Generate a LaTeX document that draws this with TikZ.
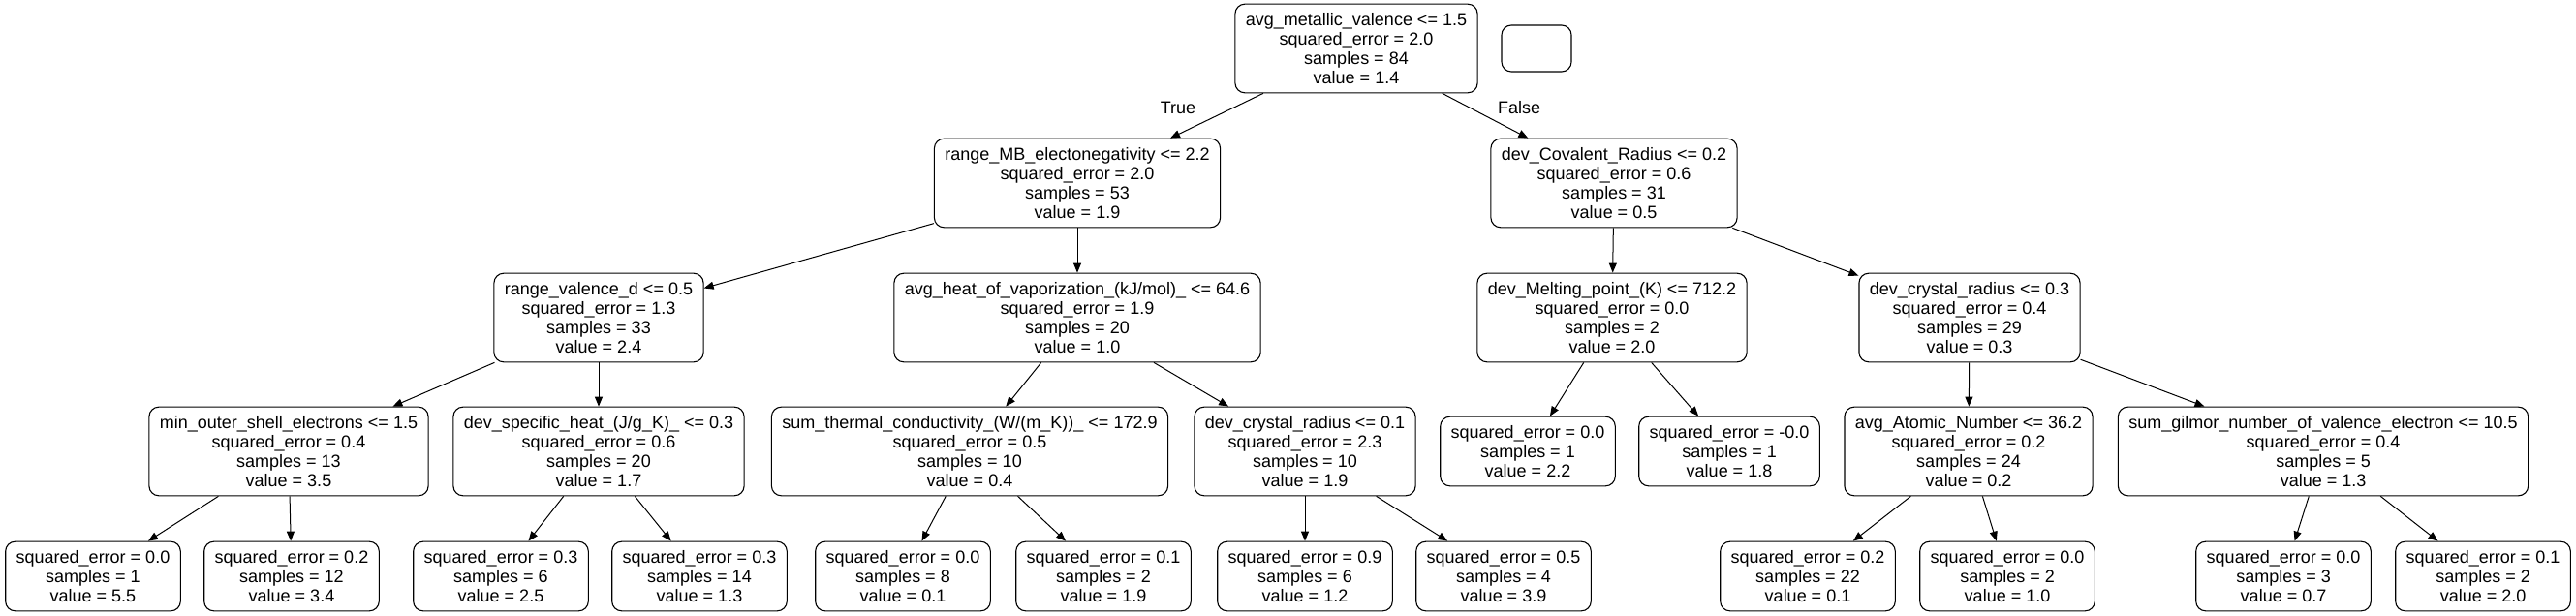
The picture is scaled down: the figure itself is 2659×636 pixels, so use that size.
\documentclass[tikz,border=0pt]{standalone}
\usepackage{fontspec}
\setmainfont{Liberation Sans}
\usepackage{tikz}
\usetikzlibrary{arrows.meta}

\begin{document}
\begin{tikzpicture}[x=0.5pt,y=-0.5pt]
    \tikzstyle{every node} = [font=\fontsize{9}{10}\selectfont]
    \tikzstyle{block} = [draw, rectangle, rounded corners=5pt, align=center, inner xsep=5.5pt, inner ysep=4.6pt, line width=0.55pt]
    \tikzstyle{link} = [-{Triangle[length=5pt,width=4pt]}, line width=0.5pt]
    \useasboundingbox (0,0) rectangle (2659,636);

    % place nodes
    \node[block](root) at (1400,50){avg\_metallic\_valence <= 1.5\\squared\_error = 2.0\\samples = 84\\value = 1.4};
    \node[block,minimum width=36pt,minimum height=24pt,inner sep=0pt](emptyNode) at (1586,50){};
    \node(trueLbl) at (1216,111){True};
    \node(falseLbl) at (1568,111){False};

    \node[block](rangeMB) at (1112,189){range\_MB\_electonegativity <= 2.2\\squared\_error = 2.0\\samples = 53\\value = 1.9};
    \node[block](devCov) at (1666,189){dev\_Covalent\_Radius <= 0.2\\squared\_error = 0.6\\samples = 31\\value = 0.5};

    \node[block](rangeVal) at (618,328){range\_valence\_d <= 0.5\\squared\_error = 1.3\\samples = 33\\value = 2.4};
    \node[block](avgHeat) at (1112,328){avg\_heat\_of\_vaporization\_(kJ/mol)\_ <= 64.6\\squared\_error = 1.9\\samples = 20\\value = 1.0};
    \node[block](devMelt) at (1664,328){dev\_Melting\_point\_(K) <= 712.2\\squared\_error = 0.0\\samples = 2\\value = 2.0};
    \node[block](devCrysA) at (2033,328){dev\_crystal\_radius <= 0.3\\squared\_error = 0.4\\samples = 29\\value = 0.3};

    \node[block](minOuter) at (298,466){min\_outer\_shell\_electrons <= 1.5\\squared\_error = 0.4\\samples = 13\\value = 3.5};
    \node[block](devSpec) at (618,466){dev\_specific\_heat\_(J/g\_K)\_ <= 0.3\\squared\_error = 0.6\\samples = 20\\value = 1.7};
    \node[block](sumTherm) at (1001,466){sum\_thermal\_conductivity\_(W/(m\_K))\_ <= 172.9\\squared\_error = 0.5\\samples = 10\\value = 0.4};
    \node[block](devCrysB) at (1347,466){dev\_crystal\_radius <= 0.1\\squared\_error = 2.3\\samples = 10\\value = 1.9};
    \node[block](devMeltL) at (1577,466){squared\_error = 0.0\\samples = 1\\value = 2.2};
    \node[block](devMeltR) at (1785,466){squared\_error = -0.0\\samples = 1\\value = 1.8};
    \node[block](avgAtom) at (2032,466){avg\_Atomic\_Number <= 36.2\\squared\_error = 0.2\\samples = 24\\value = 0.2};
    \node[block](sumGil) at (2398,466){sum\_gilmor\_number\_of\_valence\_electron <= 10.5\\squared\_error = 0.4\\samples = 5\\value = 1.3};

    \node[block](minOuterL) at (96,595){squared\_error = 0.0\\samples = 1\\value = 5.5};
    \node[block](minOuterR) at (301,595){squared\_error = 0.2\\samples = 12\\value = 3.4};
    \node[block](devSpecL) at (517,595){squared\_error = 0.3\\samples = 6\\value = 2.5};
    \node[block](devSpecR) at (722,595){squared\_error = 0.3\\samples = 14\\value = 1.3};
    \node[block](sumThermL) at (932,595){squared\_error = 0.0\\samples = 8\\value = 0.1};
    \node[block](sumThermR) at (1139,595){squared\_error = 0.1\\samples = 2\\value = 1.9};
    \node[block](devCrysBL) at (1347,595){squared\_error = 0.9\\samples = 6\\value = 1.2};
    \node[block](devCrysBR) at (1552,595){squared\_error = 0.5\\samples = 4\\value = 3.9};
    \node[block](avgAtomL) at (1866,595){squared\_error = 0.2\\samples = 22\\value = 0.1};
    \node[block](avgAtomR) at (2072,595){squared\_error = 0.0\\samples = 2\\value = 1.0};
    \node[block](sumGilL) at (2357,595){squared\_error = 0.0\\samples = 3\\value = 0.7};
    \node[block](sumGilR) at (2563,595){squared\_error = 0.1\\samples = 2\\value = 2.0};

    % Connections
    \draw[link] (root)--(rangeMB);
    \draw[link] (root)--(devCov);
    \draw[link] (rangeMB)--(rangeVal);
    \draw[link] (rangeMB)--(avgHeat);
    \draw[link] (devCov)--(devMelt);
    \draw[link] (devCov)--(devCrysA);
    \draw[link] (rangeVal)--(minOuter);
    \draw[link] (rangeVal)--(devSpec);
    \draw[link] (avgHeat)--(sumTherm);
    \draw[link] (avgHeat)--(devCrysB);
    \draw[link] (devMelt)--(devMeltL);
    \draw[link] (devMelt)--(devMeltR);
    \draw[link] (devCrysA)--(avgAtom);
    \draw[link] (devCrysA)--(sumGil);
    \draw[link] (minOuter)--(minOuterL);
    \draw[link] (minOuter)--(minOuterR);
    \draw[link] (devSpec)--(devSpecL);
    \draw[link] (devSpec)--(devSpecR);
    \draw[link] (sumTherm)--(sumThermL);
    \draw[link] (sumTherm)--(sumThermR);
    \draw[link] (devCrysB)--(devCrysBL);
    \draw[link] (devCrysB)--(devCrysBR);
    \draw[link] (avgAtom)--(avgAtomL);
    \draw[link] (avgAtom)--(avgAtomR);
    \draw[link] (sumGil)--(sumGilL);
    \draw[link] (sumGil)--(sumGilR);

\end{tikzpicture}
\end{document}
